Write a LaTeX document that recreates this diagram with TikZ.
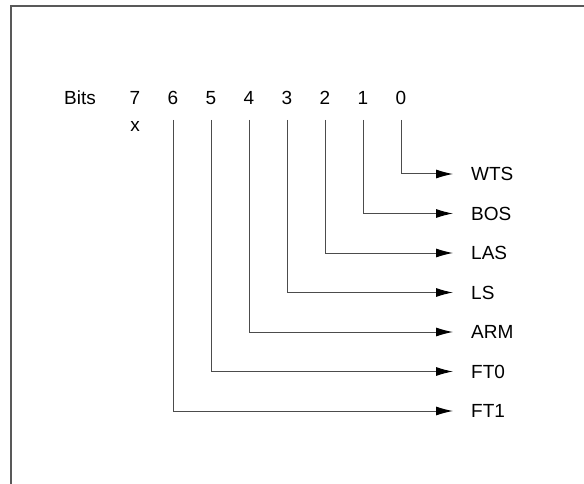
\documentclass[tikz,border=0pt]{standalone}
\usepackage{fontspec}
\setmainfont{Liberation Sans}
\usetikzlibrary{arrows.meta,calc}
\begin{document}
\begin{tikzpicture}[x=1pt,y=-1pt,
  frame/.style={draw=black!65,line width=1.6pt},
  txt/.style={font=\fontsize{19}{22}\selectfont,inner sep=0pt},
  outlbl/.style={font=\fontsize{19}{22}\selectfont,anchor=west,inner ysep=0pt,inner xsep=0pt},
  conn/.style={draw=black!70,line width=1pt,-{Latex[length=17pt,width=9pt,color=black]}}]
\useasboundingbox (0,0) rectangle (584,484);
\fill[white] (0,0) rectangle (584,484);
\draw[frame] (11,490) -- (11,6) -- (590,6);
\node[txt] (bits) at (80,98) {Bits};
\foreach \i in {0,...,7}{
  \node[txt] (b\i) at ({401-38*\i},98) {\i};
}
\node[txt] (x7) at (135,126) {x};
\foreach \i/\name in {0/WTS,1/BOS,2/LAS,3/LS,4/ARM,5/FT0,6/FT1}{
  \coordinate (s\i) at ({401-38*\i},120);
  \node[outlbl] (o\i) at (471,{174+39.5*\i}) {\name};
  \coordinate (e\i) at (453,{174+39.5*\i});
  \draw[conn] (s\i) |- (e\i);
}
\end{tikzpicture}
\end{document}
